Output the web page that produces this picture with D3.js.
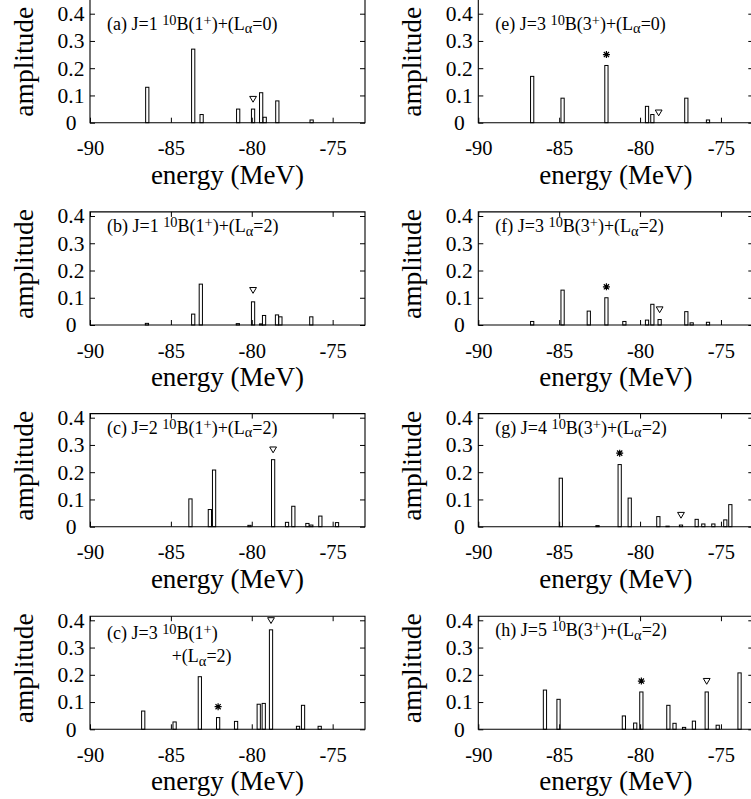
<!DOCTYPE html>
<html><head><meta charset="utf-8">
<script src="https://cdn.jsdelivr.net/npm/d3@7"></script>
<style>
html,body{margin:0;padding:0;background:#fff;}
svg{display:block;}
svg text{font-family:"Liberation Serif","Tinos","DejaVu Serif",serif;fill:#000;white-space:pre;}
</style></head><body>
<svg id="chart" width="751" height="799"></svg>
<script>
// ---------- data ----------
const xTicks = [-90, -85, -80, -75];
const yTicks = [0, 0.1, 0.2, 0.3, 0.4];
const xDomain = [-90, -73];
const yDomain = [0, 0.415];
const xLabel = "energy (MeV)";
const yLabel = "amplitude";

// (a) J=1 10B(1+)+(La=0)
const energyA = [-86.46, -83.62, -83.1, -80.84, -79.92, -79.42, -79.2, -78.42, -76.3];
const ampA    = [0.13, 0.27, 0.03, 0.05, 0.05, 0.11, 0.02, 0.08, 0.01];
const triA = [[-79.92, 0.087]];
const starA = [];

// (b) J=1 10B(1+)+(La=2)
const energyB = [-86.48, -83.62, -83.15, -80.86, -79.92, -79.42, -79.24, -78.44, -78.23, -76.32];
const ampB    = [0.006, 0.04, 0.15, 0.005, 0.085, 0.004, 0.035, 0.037, 0.03, 0.03];
const triB = [[-79.92, 0.128]];
const starB = [];

// (c) J=2 10B(1+)+(La=2)
const energyC = [-83.79, -82.59, -82.33, -80.14, -78.68, -77.82, -77.43, -76.56, -76.32, -75.76, -74.73];
const ampC    = [0.102, 0.063, 0.208, 0.005, 0.246, 0.016, 0.075, 0.012, 0.006, 0.039, 0.015];
const triC = [[-78.68, 0.283]];
const starC = [];

// (c) J=3 10B(1+)+(La=2)
const energyD = [-86.71, -84.77, -83.21, -82.08, -80.97, -79.57, -79.26, -78.81, -77.14, -76.83, -75.8];
const ampD    = [0.067, 0.027, 0.193, 0.043, 0.029, 0.092, 0.095, 0.365, 0.011, 0.088, 0.011];
const triD = [[-78.81, 0.40]];
const starD = [[-82.08, 0.083]];

// (e) J=3 10B(3+)+(La=0)
const energyE = [-86.67, -84.79, -82.08, -79.57, -79.24, -77.14, -75.8];
const ampE    = [0.17, 0.09, 0.21, 0.06, 0.03, 0.09, 0.01];
const triE = [[-78.85, 0.037]];
const starE = [[-82.08, 0.25]];

// (f) J=3 10B(3+)+(La=2)
const energyF = [-86.67, -84.79, -83.17, -82.08, -80.97, -79.57, -79.24, -78.79, -77.14, -76.81, -75.8];
const ampF    = [0.013, 0.128, 0.051, 0.1, 0.013, 0.018, 0.076, 0.02, 0.049, 0.008, 0.01];
const triF = [[-78.79, 0.057]];
const starF = [[-82.08, 0.14]];

// (g) J=4 10B(3+)+(La=2)
const energyG = [-84.9, -82.63, -81.26, -80.64, -78.87, -78.3, -77.47, -76.5, -76.09, -75.47, -74.73, -74.42];
const ampG    = [0.178, 0.004, 0.228, 0.105, 0.037, 0.002, 0.006, 0.027, 0.01, 0.01, 0.025, 0.081];
const triG = [[-77.47, 0.043]];
const starG = [[-81.26, 0.27]];

// (h) J=5 10B(3+)+(La=2)
const energyH = [-85.88, -85.04, -81.0, -80.3, -79.92, -78.25, -77.87, -77.28, -76.67, -75.88, -75.2, -73.85];
const ampH    = [0.144, 0.11, 0.049, 0.023, 0.137, 0.088, 0.022, 0.007, 0.03, 0.137, 0.015, 0.207];
const triH = [[-75.88, 0.177]];
const starH = [[-79.92, 0.177]];

// panel labels: [text, kind] kind: n normal, sup, sub
const titleA = [[["(a) J=1 ","n"],["10","sup"],["B(1","n"],["+","sup"],[")+(L","n"],["α","sub"],["=0)","n"]]];
const titleB = [[["(b) J=1 ","n"],["10","sup"],["B(1","n"],["+","sup"],[")+(L","n"],["α","sub"],["=2)","n"]]];
const titleC = [[["(c) J=2 ","n"],["10","sup"],["B(1","n"],["+","sup"],[")+(L","n"],["α","sub"],["=2)","n"]]];
const titleD = [[["(c) J=3 ","n"],["10","sup"],["B(1","n"],["+","sup"],[")","n"]],
                [["+(L","n"],["α","sub"],["=2)","n"]]];
const titleE = [[["(e) J=3 ","n"],["10","sup"],["B(3","n"],["+","sup"],[")+(L","n"],["α","sub"],["=0)","n"]]];
const titleF = [[["(f) J=3 ","n"],["10","sup"],["B(3","n"],["+","sup"],[")+(L","n"],["α","sub"],["=2)","n"]]];
const titleG = [[["(g) J=4 ","n"],["10","sup"],["B(3","n"],["+","sup"],[")+(L","n"],["α","sub"],["=2)","n"]]];
const titleH = [[["(h) J=5 ","n"],["10","sup"],["B(3","n"],["+","sup"],[")+(L","n"],["α","sub"],["=2)","n"]]];

// ---------- layout ----------
const FONT = '"Liberation Serif","Tinos","DejaVu Serif",serif';
const colLeft = [90, 478.3];
const rowBase = [122.7, 325, 526.7, 729.3];
const panelW = 275;
const perTenth = 27.25;
const barHalf = 0.1; // MeV

const panels = [
  {col:0,row:0,e:energyA,a:ampA,tri:triA,star:starA,title:titleA},
  {col:0,row:1,e:energyB,a:ampB,tri:triB,star:starB,title:titleB},
  {col:0,row:2,e:energyC,a:ampC,tri:triC,star:starC,title:titleC},
  {col:0,row:3,e:energyD,a:ampD,tri:triD,star:starD,title:titleD,two:true},
  {col:1,row:0,e:energyE,a:ampE,tri:triE,star:starE,title:titleE},
  {col:1,row:1,e:energyF,a:ampF,tri:triF,star:starF,title:titleF},
  {col:1,row:2,e:energyG,a:ampG,tri:triG,star:starG,title:titleG},
  {col:1,row:3,e:energyH,a:ampH,tri:triH,star:starH,title:titleH}
];

const svg = d3.select("#chart");

function richText(g, x, y, segs, size){
  const t = g.append("text").attr("x", x).attr("y", y).attr("font-size", size)
    .attr("font-family", FONT);
  let shift = 0;
  segs.forEach(([s,k]) => {
    const target = k === "sup" ? -5 : k === "sub" ? 3.5 : 0;
    t.append("tspan").attr("dy", target - shift)
      .attr("font-size", k === "n" ? size : size*0.8).text(s);
    shift = target;
  });
}

panels.forEach(p => {
  const left = colLeft[p.col], base = rowBase[p.row];
  const x = d3.scaleLinear().domain(xDomain).range([left, left + panelW]);
  const y = d3.scaleLinear().domain(yDomain).range([base, base - perTenth*10*yDomain[1]]);
  const top = y(yDomain[1]);
  const right = x(xDomain[1]);
  const g = svg.append("g");

  // bars
  g.selectAll("rect.bar").data(p.e.map((e,i)=>({e, a:p.a[i]}))).join("rect")
    .attr("class","bar")
    .attr("x", d => x(d.e - barHalf))
    .attr("width", d => x(d.e + barHalf) - x(d.e - barHalf))
    .attr("y", d => y(d.a))
    .attr("height", d => y(0) - y(d.a))
    .attr("fill", "#fff").attr("stroke", "#000").attr("stroke-width", 1);

  // markers
  g.selectAll("path.tri").data(p.tri).join("path")
    .attr("class","tri")
    .attr("transform", d => `translate(${x(d[0])},${y(d[1])})`)
    .attr("d", "M-3.4,-2.6L3.4,-2.6L0,3.2Z")
    .attr("fill","#fff").attr("stroke","#000").attr("stroke-width",1);
  g.selectAll("path.star").data(p.star).join("path")
    .attr("class","star")
    .attr("transform", d => `translate(${x(d[0])},${y(d[1])})`)
    .attr("d", "M-3.5,0H3.5M0,-3.5V3.5M-2.6,-2.6L2.6,2.6M-2.6,2.6L2.6,-2.6")
    .attr("fill","none").attr("stroke","#000").attr("stroke-width",1.2);

  // axes (inward ticks)
  const fmtY = d => d === 0 ? "0" : d.toFixed(1);
  const ax = g.append("g").attr("transform", `translate(0,${base})`)
    .call(d3.axisBottom(x).tickValues(xTicks).tickSizeInner(-5).tickSizeOuter(0)
      .tickPadding(18).tickFormat(d => String(d)));
  ax.select(".domain").remove();
  ax.attr("font-size", 20.5).attr("font-family", FONT);

  const ay = g.append("g").attr("transform", `translate(${left},0)`)
    .call(d3.axisLeft(y).tickValues(yTicks).tickSizeInner(-5).tickSizeOuter(0).tickFormat(fmtY));
  ay.select(".domain").remove();
  ay.attr("font-size", 21.5).attr("font-family", FONT);
  ay.selectAll("text").attr("text-anchor","middle").attr("x", -19);

  const ar = g.append("g").attr("transform", `translate(${right},0)`)
    .call(d3.axisRight(y).tickValues(yTicks).tickSizeInner(-5).tickSizeOuter(0).tickFormat(""));
  ar.select(".domain").remove();

  if (p.row > 0) {
    const at = g.append("g").attr("transform", `translate(0,${top})`)
      .call(d3.axisTop(x).tickValues(xTicks).tickSizeInner(-5).tickSizeOuter(0).tickFormat(""));
    at.select(".domain").remove();
  }

  // frame
  const frameTop = p.row > 0 ? top : -5;
  g.append("path")
    .attr("d", `M${left},${frameTop}V${base}H${right}V${frameTop}` + (p.row > 0 ? "Z" : ""))
    .attr("fill","none").attr("stroke","#000").attr("stroke-width",1.1);

  // axis titles
  g.append("text").attr("x", left + panelW/2).attr("y", base + 61)
    .attr("text-anchor","middle").attr("font-size", 27).attr("font-family", FONT).text(xLabel);
  g.append("text").attr("transform", `translate(${left - 57},${base - 61}) rotate(-90)`)
    .attr("text-anchor","middle").attr("font-size", 27.5).attr("font-family", FONT).text(yLabel);

  // panel title
  if (p.two) {
    richText(g, left + 17, base - 90, p.title[0], 18);
    richText(g, left + 81.7, base - 67, p.title[1], 18);
  } else {
    richText(g, left + 17, base - 93, p.title[0], 18);
  }
});
</script>
</body></html>
